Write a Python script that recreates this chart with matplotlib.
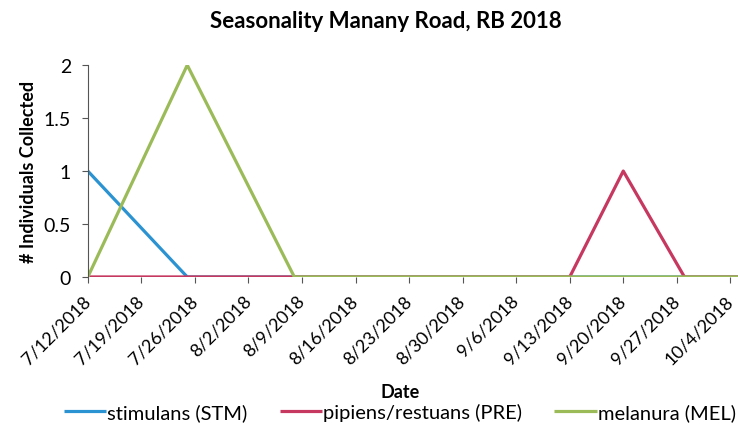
import numpy as np
import pandas as pd
import matplotlib
matplotlib.use("agg")
import matplotlib.pyplot as plt

plt.rcParams["font.family"] = ["Lato", "DejaVu Sans"]

# sampling dates and counts per species
DATES = pd.to_datetime(["2018-07-12", "2018-07-25", "2018-08-08", "2018-09-13",
                        "2018-09-20", "2018-09-28", "2018-10-05"])
STM = [1, 0, 0, 0, 0, 0, 0]
PRE = [0, 0, 0, 0, 1, 0, 0]
MEL = [0, 2, 0, 0, 0, 0, 0]

SERIES = [("stimulans (STM)", STM, "#2b93d1"),
          ("pipiens/restuans (PRE)", PRE, "#c6385f"),
          ("melanura (MEL)", MEL, "#9bbb59")]

TICKS = pd.date_range("2018-07-12", "2018-10-04", freq="7D")

fig = plt.figure(figsize=(7.38, 4.35), dpi=100)
ax = fig.add_axes([0.119, 0.361, 0.881, 0.487])

for label, vals, color in SERIES:
	ax.plot(DATES, vals, color=color, lw=2.3, label=label, solid_capstyle="butt")

ax.set_xlim(pd.Timestamp("2018-07-12"), pd.Timestamp("2018-10-05"))
ax.set_ylim(0, 2)
ax.set_yticks([0, 0.5, 1, 1.5, 2])
ax.set_yticklabels(["0", "0.5", "1", "1.5", "2"])
ax.set_xticks(TICKS)
ax.set_xticklabels(["{}/{}/{}".format(d.month, d.day, d.year) for d in TICKS],
	rotation=45, ha="right", va="center", rotation_mode="anchor")
ax.tick_params(axis="both", color="#555555", length=4)
ax.tick_params(axis="x", labelsize=13, pad=11)
ax.tick_params(axis="y", labelsize=14, pad=8)
for s in ["top", "right", "bottom"]:
	ax.spines[s].set_visible(False)
ax.spines["left"].set_color("#555555")

fig.text(0.523, 0.95, "Seasonality Manany Road, RB 2018", ha="center", va="center",
	fontsize=16, fontweight="bold")
fig.text(0.038, 0.605, "# Individuals Collected", rotation=90, ha="center", va="center",
	fontsize=13, fontweight="bold")
fig.text(0.542, 0.097, "Date", ha="center", va="center", fontsize=13, fontweight="bold")

fig.legend(loc="center", bbox_to_anchor=(0.542, 0.05), ncol=3, frameon=False,
	fontsize=14.5, handlelength=2.1, handletextpad=0.05, columnspacing=1.6)

plt.savefig("out.png")
